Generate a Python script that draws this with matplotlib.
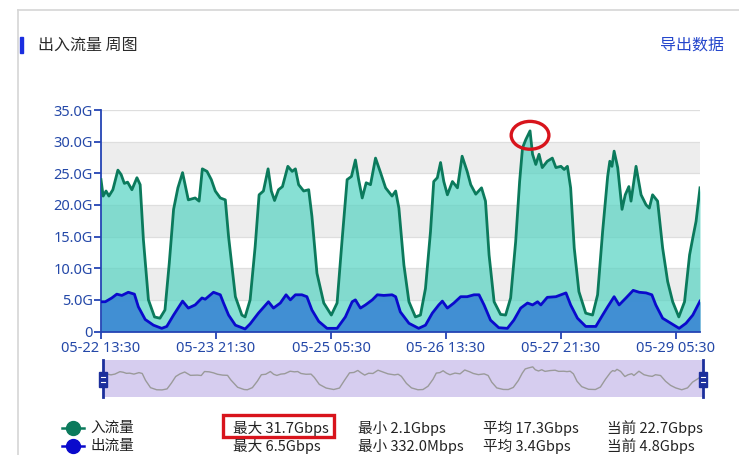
import matplotlib
matplotlib.use("Agg")
import matplotlib.pyplot as plt
from matplotlib.patches import Ellipse, Rectangle
from matplotlib.lines import Line2D

plt.rcParams['font.family'] = ['Noto Sans CJK SC', 'DejaVu Sans']

# hours after 05-22 13:30, and traffic in Gbps
in_t = [0, 0.6, 1.4, 2.2, 3.3, 4.7, 5.6, 6.5, 7.4, 8.6, 10.0, 10.9, 11.8, 13.2, 14.9, 16.4,
        17.8, 19.0, 20.2, 21.4, 22.7, 23.4, 24.3, 26.2, 27.3, 28.2, 29.5, 30.7, 31.8, 33.2,
        34.6, 35.5, 37.4, 39.2, 40.1, 41.5, 42.9, 44.0, 45.2, 46.5, 47.4, 48.3, 49.4, 50.5,
        52.0, 53.2, 54.1, 55.0, 56.4, 57.8, 58.7, 60.1, 62.0, 64.1, 65.7, 67.1, 68.5, 69.7,
        70.8, 71.7, 72.7, 73.8, 75.0, 76.4, 77.8, 79.2, 81.0, 82.0, 82.9, 84.3, 85.7, 87.5,
        88.9, 90.3, 91.7, 92.6, 93.6, 94.5, 95.4, 96.4, 97.8, 99.2, 100.5, 101.9, 102.9,
        104.3, 105.9, 107.0, 108.0, 109.4, 111.2, 112.6, 114.0, 115.4, 116.5, 117.3, 118.2,
        118.9, 119.4, 120.1, 121.0, 121.9, 122.8, 124.2, 125.6, 126.6, 128.0, 128.9, 129.8,
        130.7, 131.7, 133.0, 134.9, 136.8, 138.2, 139.6, 141.0, 141.6, 142.2, 142.8, 143.8,
        145.0, 145.9, 146.9, 147.5, 148.9, 150.3, 151.7, 152.6, 153.5, 154.9, 156.3, 157.7,
        159.1, 160.8, 162.4, 163.8, 164.7, 165.6, 166.7]
in_v = [24.0, 21.4, 22.2, 21.4, 22.4, 25.5, 24.8, 23.4, 23.6, 22.4, 24.3, 23.2, 14.5, 5.0, 2.3, 2.1,
        3.4, 10.8, 19.3, 22.7, 25.1, 23.2, 20.8, 21.1, 20.6, 25.7, 25.3, 24.0, 22.2, 21.1,
        20.8, 15.0, 5.5, 2.6, 2.3, 5.0, 13.4, 21.6, 22.2, 25.7, 22.2, 20.7, 22.4, 22.9,
        26.1, 25.3, 25.7, 23.2, 22.2, 22.4, 18.2, 9.2, 4.5, 2.6, 4.5, 14.5, 24.0, 24.5,
        27.1, 24.0, 21.1, 23.5, 23.2, 27.4, 25.1, 22.7, 21.4, 22.2, 19.5, 10.5, 4.7, 2.3,
        2.6, 6.8, 15.8, 23.7, 24.3, 26.7, 23.7, 21.6, 23.7, 22.7, 27.7, 25.3, 23.2,
        21.7, 22.7, 20.6, 12.1, 4.7, 2.7, 2.6, 5.3, 14.2, 23.7, 29.0, 30.3,
        31.1, 31.7, 28.0, 26.4, 28.0, 25.9, 26.9, 27.4, 25.9, 26.1, 25.6, 26.1,
        22.7, 13.2, 6.3, 2.9, 2.6, 5.8, 15.8, 24.5, 26.9, 26.1, 28.5, 25.9,
        19.3, 21.6, 22.9, 20.6, 26.1, 21.6, 20.0, 19.5, 21.6, 20.6, 13.2, 7.9,
        4.7, 2.3, 4.7, 12.1, 14.8, 17.4, 22.7]

out_t = [0, 1.2, 3.0, 4.4, 5.8, 7.6, 9.3, 10.4, 12.3, 14.6, 16.9, 18.3, 20.2, 22.7, 24.3, 26.2,
         28.1, 29.0, 31.3, 33.2, 34.1, 35.5, 37.4, 40.1, 41.5, 43.8, 46.6, 48.0, 49.9, 51.5,
         52.7, 54.1, 55.9, 57.3, 58.7, 60.6, 62.9, 65.7, 68.0, 69.9, 70.8, 72.2, 73.6, 75.5,
         76.9, 78.7, 81.0, 82.0, 83.3, 85.7, 88.4, 90.3, 92.2, 94.0, 95.0, 96.4, 98.2, 100.1,
         101.9, 103.8, 105.2, 106.6, 108.4, 110.7, 113.1, 114.9, 116.8, 118.7, 120.1, 121.5,
         122.4, 124.2, 126.6, 129.4, 130.7, 132.6, 134.9, 137.7, 139.6, 141.0, 142.8, 144.2,
         146.1, 148.1, 149.8, 151.7, 153.3, 154.4, 156.3, 158.6, 160.9, 162.8, 164.7, 166.7]
out_v = [4.7, 4.7, 5.3, 5.9, 5.7, 6.2, 5.9, 3.9, 1.9, 1.0, 0.5, 0.8, 2.6, 4.8, 3.7, 4.2,
         5.3, 5.1, 6.2, 5.8, 4.5, 2.6, 1.0, 0.4, 1.2, 2.9, 4.7, 3.7, 4.5, 5.8,
         5.0, 5.8, 5.8, 5.5, 3.4, 1.6, 0.5, 0.5, 2.3, 4.7, 5.0, 3.7, 4.2, 5.0,
         5.8, 5.7, 5.8, 5.5, 3.1, 1.3, 0.5, 1.0, 2.9, 4.2, 4.8, 3.7, 4.5, 5.5,
         5.5, 5.8, 5.8, 4.2, 1.8, 0.6, 0.5, 1.8, 3.7, 4.5, 4.2, 4.7,
         4.2, 5.4, 5.5, 6.1, 4.2, 2.1, 0.8, 0.8, 2.6, 3.9, 5.5, 4.2,
         5.3, 6.5, 6.2, 6.1, 5.8, 4.2, 2.1, 1.3, 0.5, 1.3, 2.6, 4.8]

tick_hours = [0, 32, 64, 96, 128, 160]
tick_labels = ['05-22 13:30', '05-23 21:30', '05-25 05:30', '05-26 13:30', '05-27 21:30', '05-29 05:30']
y_ticks = [0, 5, 10, 15, 20, 25, 30, 35]
y_labels = ['0', '5.0G', '10.0G', '15.0G', '20.0G', '25.0G', '30.0G', '35.0G']

series_names = ['入流量', '出流量']
stats = [['最大 31.7Gbps', '最小 2.1Gbps', '平均 17.3Gbps', '当前 22.7Gbps'],
         ['最大 6.5Gbps', '最小 332.0Mbps', '平均 3.4Gbps', '当前 4.8Gbps']]
peak_t, peak_v = 119.4, 31.0

IN_LINE = '#0b7a5c'
IN_FILL = '#55d3c2'
OUT_LINE = '#0a0acc'
OUT_FILL = '#3d8bd3'
AXIS_BLUE = '#2444b4'
LABEL_BLUE = '#2448a8'

W, H = 739, 455
fig = plt.figure(figsize=(W / 100, H / 100), dpi=100)
fig.patch.set_facecolor('white')

def fx(px):
    return px / W

def fy(py):
    return 1 - py / H

# card border
fig.add_artist(Line2D([fx(18), fx(18)], [fy(10), 0], color='#d6d6d6', lw=1.2))
fig.add_artist(Line2D([fx(18), 1], [fy(10), fy(10)], color='#d6d6d6', lw=1.2))

# title
fig.add_artist(Rectangle((fx(20), fy(53)), fx(3), 16 / H, color='#1a2ee0'))
fig.text(fx(38), fy(45), '出入流量 周图', fontsize=11.5, color='#2a2a2a', va='center', ha='left',
         weight='medium')
fig.text(fx(724), fy(45), '导出数据', fontsize=11.5, color='#2446cc', va='center', ha='right')

# main chart
ax = fig.add_axes([fx(101), fy(331.5), fx(700) - fx(101), (331.5 - 110) / H])
ax.set_xlim(0, in_t[-1])
ax.set_ylim(0, 35)
for lo in [5, 15, 25]:
    ax.axhspan(lo, lo + 5, color='#ededed', zorder=0, lw=0)
for y in y_ticks[1:]:
    ax.axhline(y, color='#dedede', lw=0.9, zorder=0.5)

ax.fill_between(in_t, in_v, color=IN_FILL, alpha=0.7, lw=0, zorder=1)
ax.plot(in_t, in_v, color=IN_LINE, lw=2, zorder=3, solid_joinstyle='round')
ax.fill_between(out_t, out_v, color=OUT_FILL, alpha=0.95, lw=0, zorder=2)
ax.plot(out_t, out_v, color=OUT_LINE, lw=2, zorder=4, solid_joinstyle='round')

ax.add_patch(Ellipse((peak_t, peak_v), 10.5, 4.4, fill=False, ec='#d8141c', lw=2.4,
                     zorder=6, clip_on=False))

for s in ['top', 'right']:
    ax.spines[s].set_visible(False)
for s in ['left', 'bottom']:
    ax.spines[s].set_color(AXIS_BLUE)
    ax.spines[s].set_linewidth(1.3)
ax.set_yticks(y_ticks)
ax.set_yticklabels(y_labels)
ax.set_xticks(tick_hours)
ax.set_xticklabels(tick_labels)
ax.tick_params(axis='y', length=5, width=1.3, color=AXIS_BLUE, labelcolor=LABEL_BLUE,
               labelsize=10.5, pad=1)
ax.tick_params(axis='x', length=5, width=1.3, color=AXIS_BLUE, labelcolor=LABEL_BLUE,
               labelsize=10.5, pad=2)
for lab in ax.get_xticklabels() + ax.get_yticklabels():
    lab.set_family(['Noto Sans', 'DejaVu Sans'])
    lab.set_weight('medium')

# zoom slider
sl = fig.add_axes([fx(103), fy(397), fx(703) - fx(103), 37 / H])
sl.set_facecolor('#d6cdef')
sl.plot(in_t, in_v, color='#9a9a9a', lw=1)
sl.set_xlim(0, in_t[-1])
sl.set_ylim(-7, 40.5)
sl.set_xticks([])
sl.set_yticks([])
for s in sl.spines.values():
    s.set_visible(False)
for edge in [0, in_t[-1]]:
    sl.plot([edge, edge], [-7, 40.5], color='#1c2f9c', lw=2, clip_on=False, zorder=5)
    sl.add_patch(Rectangle((edge - 1.2, 6), 2.4, 19, facecolor='#1c2f9c', edgecolor='#1c2f9c',
                           clip_on=False, zorder=6))
    sl.plot([edge - 0.6, edge + 0.6], [12, 12], color='white', lw=0.8, clip_on=False, zorder=7)
    sl.plot([edge - 0.6, edge + 0.6], [19, 19], color='white', lw=0.8, clip_on=False, zorder=7)

# legend
legend_colors = [IN_LINE, OUT_LINE]
row_y = [428, 446]
col_x = [233, 358, 483, 607]
for i, name in enumerate(series_names):
    c = legend_colors[i]
    fig.add_artist(Line2D([fx(62), fx(84)], [fy(row_y[i]), fy(row_y[i])], color=c, lw=1.8))
    fig.add_artist(Line2D([fx(73)], [fy(row_y[i])], marker='o', markersize=10, color=c))
    fig.text(fx(90), fy(row_y[i]), name, fontsize=10.5, color='#222222', va='center')
    for j, txt in enumerate(stats[i]):
        fig.text(fx(col_x[j]), fy(row_y[i]), txt, fontsize=10.5, color='#222222', va='center')

fig.add_artist(Rectangle((fx(223), fy(437)), fx(111), 22 / H, fill=False, ec='#d8141c', lw=2.4))

fig.savefig('out.png', dpi=100)
